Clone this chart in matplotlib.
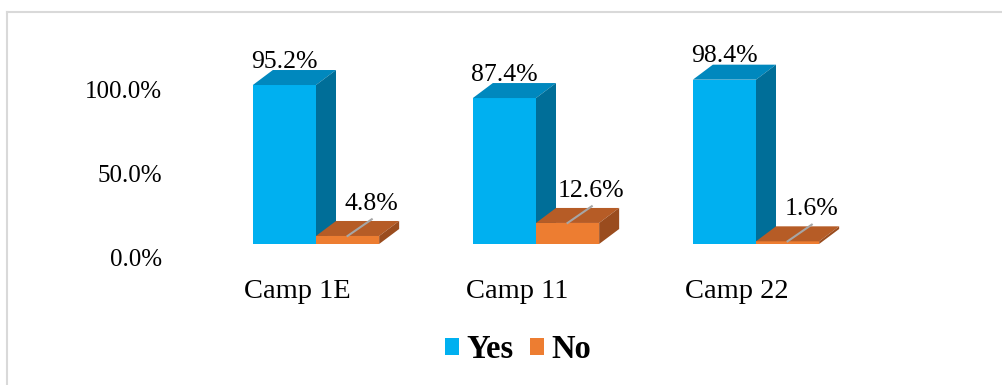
import numpy as np
import matplotlib
matplotlib.use("Agg")
import matplotlib.pyplot as plt
from matplotlib.patches import Polygon, Rectangle, Patch
from matplotlib.lines import Line2D
from matplotlib.transforms import ScaledTranslation

camps = ["Camp 1E", "Camp 11", "Camp 22"]
yes = [95.2, 87.4, 98.4]
no = [4.8, 12.6, 1.6]
yticks = [0, 50, 100]
ytick_labels = ["0.0%", "50.0%", "100.0%"]

plt.rcParams["font.family"] = ["Liberation Serif", "DejaVu Serif"]

W, H = 1003, 385
fig = plt.figure(figsize=(W / 100, H / 100), dpi=100)

# axes placed in pixel terms
left, right, bottom, top = 170, 880, 244, 50
ax = fig.add_axes([left / W, (H - bottom) / H, (right - left) / W, (bottom - top) / H])
px_x = 220.0  # pixels per category
px_y = 1.67   # pixels per percent
ax.set_xlim((left - 316) / px_x, (right - 316) / px_x)
ax.set_ylim(0, (bottom - top) / px_y)
for s in ax.spines.values():
    s.set_visible(False)

w = 0.287
dx = 20 / px_x   # depth offset
dy = 15 / px_y

def bar3d(x0, h, front, topc, side):
    ax.add_patch(Rectangle((x0, 0), w, h, facecolor=front, edgecolor="none", clip_on=False, zorder=2))
    ax.add_patch(Polygon([(x0, h), (x0 + dx, h + dy), (x0 + w + dx, h + dy), (x0 + w, h)],
                         closed=True, facecolor=topc, edgecolor="none", clip_on=False, zorder=2))
    ax.add_patch(Polygon([(x0 + w, 0), (x0 + w + dx, dy), (x0 + w + dx, h + dy), (x0 + w, h)],
                         closed=True, facecolor=side, edgecolor="none", clip_on=False, zorder=2))

blue = ("#00B0F0", "#0088BE", "#006E98")
orange = ("#ED7D31", "#B65C26", "#9A4C1E")

for i, (y_, n_) in enumerate(zip(yes, no)):
    bar3d(i - w, y_, *blue)
    bar3d(i, n_, *orange)
    # value labels
    ax.annotate(f"{y_:.1f}%", (i - w / 2, y_ + dy), xytext=(0, -2), textcoords="offset points",
                ha="center", va="bottom", fontsize=18.5, annotation_clip=False)
    cx = i + w / 2
    ax.add_line(Line2D([cx, cx + 0.11], [n_, n_ + 10], color="#A6A6A6", lw=1.5, zorder=3, clip_on=False))
    ax.annotate(f"{n_:.1f}%", (cx, n_), xytext=(17, 15), textcoords="offset points",
                ha="center", va="bottom", fontsize=18.5, annotation_clip=False)

ax.set_yticks(yticks)
ax.set_yticklabels(ytick_labels, fontsize=18)
ax.set_xticks(range(len(camps)))
ax.set_xticklabels(camps, fontsize=20.5)
ax.tick_params(length=0)
ax.tick_params(axis="y", pad=6)
ax.tick_params(axis="x", pad=25)
for lab in ax.get_yticklabels():
    lab.set_transform(lab.get_transform() + ScaledTranslation(0, -13 / 100, fig.dpi_scale_trans))
for lab in ax.get_xticklabels():
    lab.set_transform(lab.get_transform() + ScaledTranslation(-19 / 100, 0, fig.dpi_scale_trans))

handles = [Patch(facecolor=blue[0], label="Yes"), Patch(facecolor=orange[0], label="No")]
fig.legend(handles=handles, loc="center", bbox_to_anchor=(518 / W, 1 - 350 / H), ncol=2,
           frameon=False, prop={"weight": "bold", "size": 23.5}, handlelength=0.43, handleheight=0.43,
           handletextpad=0.22, columnspacing=0.5, borderpad=0.1)

# outer chart border (top and left edges visible)
fig.add_artist(Line2D([7.5 / W, 1], [1 - 11.5 / H, 1 - 11.5 / H], color="#D9D9D9", lw=1.5))
fig.add_artist(Line2D([7.5 / W, 7.5 / W], [0, 1 - 11.5 / H], color="#D9D9D9", lw=1.5))

fig.savefig("out.png", dpi=100)
